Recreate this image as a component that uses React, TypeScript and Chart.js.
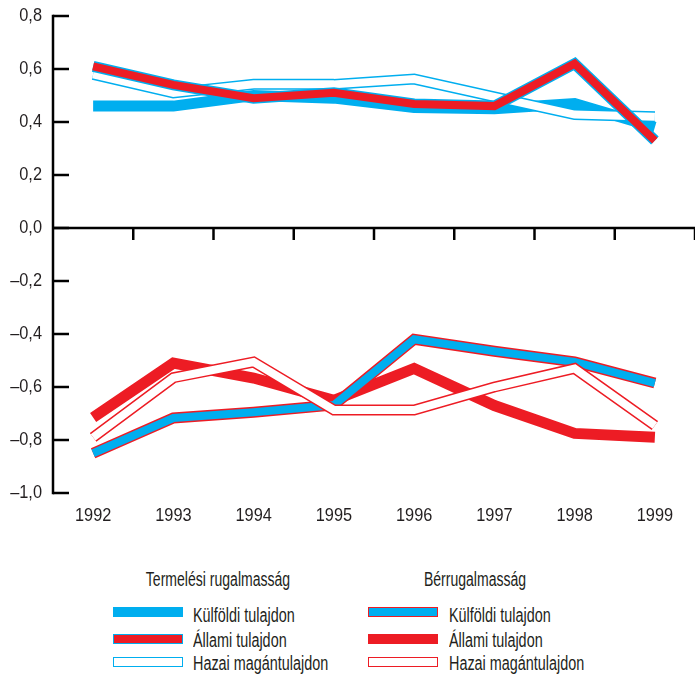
import React, { useEffect, useRef } from "react";
import { Chart, registerables } from "chart.js";

Chart.register(...registerables);

const years = ["1992", "1993", "1994", "1995", "1996", "1997", "1998", "1999"];

// Termelési rugalmasság (production elasticity)
const prodForeign = [0.46, 0.46, 0.5, 0.49, 0.455, 0.45, 0.47, 0.38];
const prodState = [0.61, 0.54, 0.49, 0.51, 0.468, 0.46, 0.62, 0.33];
const prodDomestic = [0.58, 0.51, 0.542, 0.542, 0.562, 0.495, 0.428, 0.42];

// Bérrugalmasság (wage elasticity)
const wageForeign = [-0.85, -0.717, -0.695, -0.668, -0.42, -0.465, -0.505, -0.585];
const wageState = [-0.715, -0.51, -0.566, -0.65, -0.53, -0.67, -0.775, -0.79];
const wageDomestic = [-0.79, -0.565, -0.506, -0.687, -0.687, -0.6, -0.53, -0.745];

const yMin = -1.0;
const yMax = 0.8;
const yStep = 0.2;

const groupTitles = ["Termelési rugalmasság", "Bérrugalmasság"];
const seriesNames = ["Külföldi tulajdon", "Állami tulajdon", "Hazai magántulajdon"];

const BLUE = "#00AEEF";
const RED = "#ED1C24";
const WHITE = "#FFFFFF";
const TEXT = "#231F20";
const FONT = "'Liberation Sans', Arial, sans-serif";
const CONDENSE = 0.86;

function fmt(v: number): string {
  if (Math.abs(v) < 1e-9) return "0,0";
  const s = Math.abs(v).toFixed(1).replace(".", ",");
  return v < 0 ? "\u2013" + s : s;
}

function solid(data: number[], color: string, order: number) {
  return {
    data,
    borderColor: color,
    backgroundColor: color,
    borderWidth: 11,
    pointRadius: 0,
    tension: 0,
    fill: false,
    borderJoinStyle: "miter" as const,
    borderCapStyle: "butt" as const,
    order,
  };
}

function outlined(data: number[], outline: string, inner: string, order: number) {
  return [
    solid(data, outline, order + 1),
    { ...solid(data, inner, order), borderWidth: 8 },
  ];
}

// Condensed tick labels: the scales draw their own labels, squeezed horizontally
const condensedText = {
  id: "condensedText",
  beforeDraw(chart: any) {
    const ctx = chart.ctx;
    const orig = CanvasRenderingContext2D.prototype.fillText;
    ctx.fillText = function (t: string, x: number, y: number, mw?: number) {
      this.save();
      this.scale(CONDENSE, 1);
      if (mw === undefined) orig.call(this, t, x / CONDENSE, y);
      else orig.call(this, t, x / CONDENSE, y, mw / CONDENSE);
      this.restore();
    };
  },
  beforeDatasetsDraw(chart: any) {
    delete chart.ctx.fillText;
  },
};

const axesPlugin = {
  id: "customAxes",
  beforeDatasetsDraw(chart: any) {
    const { ctx, chartArea, scales } = chart;
    const x = scales.x;
    const y = scales.y;
    ctx.save();
    ctx.strokeStyle = "#000";
    ctx.lineWidth = 2.5;
    ctx.lineCap = "butt";
    const left = chartArea.left;
    const yTop = y.getPixelForValue(yMax);
    const yBot = y.getPixelForValue(yMin);
    ctx.beginPath();
    ctx.moveTo(left, yTop - 1.25);
    ctx.lineTo(left, yBot + 1.25);
    ctx.stroke();
    const n = Math.round((yMax - yMin) / yStep);
    for (let i = 0; i <= n; i++) {
      const py = y.getPixelForValue(yMin + i * yStep);
      ctx.beginPath();
      ctx.moveTo(left, py);
      ctx.lineTo(left + 16, py);
      ctx.stroke();
    }
    const y0 = y.getPixelForValue(0);
    ctx.beginPath();
    ctx.moveTo(left, y0);
    ctx.lineTo(chartArea.right, y0);
    ctx.stroke();
    for (let i = 0; i < years.length; i++) {
      const px = x.getPixelForValue(i + 0.5);
      ctx.beginPath();
      ctx.moveTo(px, y0);
      ctx.lineTo(px, y0 + 12);
      ctx.stroke();
    }
    ctx.restore();
  },
};

function Swatch({ outline, inner }: { outline: string; inner: string }) {
  return (
    <div
      style={{
        width: 70,
        height: 10,
        boxSizing: "border-box",
        background: inner,
        border: `1.5px solid ${outline}`,
      }}
    />
  );
}

export default function App() {
  const ref = useRef<HTMLCanvasElement | null>(null);

  useEffect(() => {
    if (!ref.current) return;
    const datasets: any[] = [
      solid(prodForeign, BLUE, 30),
      ...outlined(prodDomestic, BLUE, WHITE, 26),
      ...outlined(prodState, BLUE, RED, 22),
      solid(wageState, RED, 20),
      ...outlined(wageForeign, RED, BLUE, 16),
      ...outlined(wageDomestic, RED, WHITE, 12),
    ];
    const tickFont = { family: FONT, size: 19 };
    const chart = new Chart(ref.current, {
      type: "line",
      data: { labels: years, datasets },
      options: {
        animation: false,
        responsive: false,
        maintainAspectRatio: false,
        layout: { padding: { top: 16, right: 0, left: 0, bottom: 0 } },
        plugins: { legend: { display: false }, tooltip: { enabled: false } },
        scales: {
          x: {
            type: "category",
            offset: true,
            grid: { display: false, drawTicks: false },
            border: { display: false },
            ticks: {
              padding: 11,
              color: TEXT,
              font: tickFont,
              maxRotation: 0,
              autoSkip: false,
            },
            afterFit: (s: any) => {
              s.height = 47;
              s.paddingLeft = 0;
              s.paddingRight = 0;
            },
          },
          y: {
            min: yMin,
            max: yMax,
            grid: { display: false, drawTicks: false },
            border: { display: false },
            ticks: {
              stepSize: yStep,
              padding: 11,
              color: TEXT,
              font: tickFont,
              callback: (v: any) => fmt(Number(v)),
            },
            afterFit: (s: any) => {
              s.width = 53;
              s.paddingTop = 0;
              s.paddingBottom = 0;
            },
          },
        },
      },
      plugins: [condensedText, axesPlugin],
    });
    return () => chart.destroy();
  }, []);

  const textStyle: React.CSSProperties = {
    position: "absolute",
    fontFamily: FONT,
    fontSize: 20,
    lineHeight: "20px",
    color: TEXT,
    whiteSpace: "nowrap",
  };

  const leftSw = [
    { outline: BLUE, inner: BLUE },
    { outline: BLUE, inner: RED },
    { outline: BLUE, inner: WHITE },
  ];
  const rightSw = [
    { outline: RED, inner: BLUE },
    { outline: RED, inner: RED },
    { outline: RED, inner: WHITE },
  ];
  const swTops = [607, 634, 657];
  const txtTops = [605, 630, 653];

  const titleStyle: React.CSSProperties = {
    ...textStyle,
    fontSize: 19.5,
    top: 569,
    transform: "translateX(-50%) scaleX(0.72)",
    transformOrigin: "50% 50%",
  };
  const itemStyle: React.CSSProperties = {
    ...textStyle,
    transform: "scaleX(0.72)",
    transformOrigin: "0 50%",
  };

  return (
    <div style={{ position: "absolute", left: 0, top: 0, width: 695, height: 680, background: "#fff" }}>
      <canvas ref={ref} width={695} height={540} style={{ position: "absolute", left: 0, top: 0 }} />
      <div style={{ ...titleStyle, left: 218 }}>{groupTitles[0]}</div>
      <div style={{ ...titleStyle, left: 475 }}>{groupTitles[1]}</div>
      {leftSw.map((s, i) => (
        <div key={"l" + i} style={{ position: "absolute", left: 113, top: swTops[i] }}>
          <Swatch outline={s.outline} inner={s.inner} />
        </div>
      ))}
      {rightSw.map((s, i) => (
        <div key={"r" + i} style={{ position: "absolute", left: 368, top: swTops[i] }}>
          <Swatch outline={s.outline} inner={s.inner} />
        </div>
      ))}
      {seriesNames.map((n, i) => (
        <div key={"lt" + i} style={{ ...itemStyle, left: 193, top: txtTops[i] }}>{n}</div>
      ))}
      {seriesNames.map((n, i) => (
        <div key={"rt" + i} style={{ ...itemStyle, left: 449, top: txtTops[i] }}>{n}</div>
      ))}
    </div>
  );
}
